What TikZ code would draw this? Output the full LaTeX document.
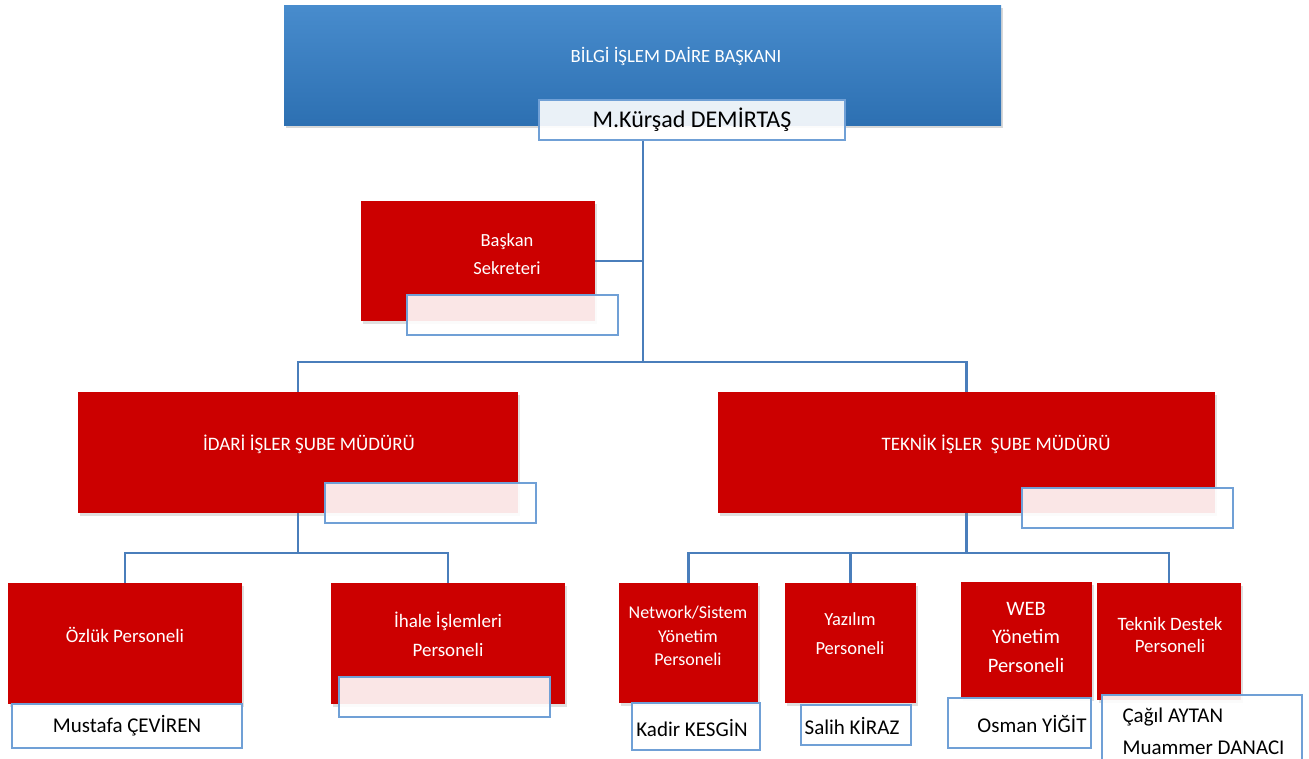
\documentclass[tikz,border=0pt]{standalone}
\usepackage{fontspec}
\setmainfont{Carlito}
\usetikzlibrary{shadows,backgrounds}
\definecolor{deepred}{RGB}{204,0,0}
\definecolor{linkblue}{RGB}{74,126,187}
\definecolor{edgeblue}{RGB}{112,160,214}
\definecolor{topblue}{RGB}{72,140,205}
\definecolor{lowblue}{RGB}{45,112,178}

\begin{document}
\begin{tikzpicture}[x=1pt,y=-1pt,
  redbox/.style={fill=deepred, inner sep=0, drop shadow={opacity=0.25,shadow xshift=2pt,shadow yshift=-3pt}},
  namebox/.style={draw=edgeblue, line width=1.5pt, fill=white, fill opacity=0.9, text opacity=1, inner sep=0},
  redtext/.style={text=white, align=center, font=\fontsize{19}{23}\selectfont},
  nametext/.style={font=\fontsize{21}{26}\selectfont},
  conn/.style={draw=linkblue, line width=2.5pt}]
\useasboundingbox (0,0) rectangle (1309,758);

\node[top color=topblue, bottom color=lowblue, inner sep=0, minimum width=717pt, minimum height=120pt, drop shadow={opacity=0.3,shadow xshift=2pt,shadow yshift=-3pt}] (HEAD) at (642.5,65) {};
\node[text=white, font=\fontsize{18.7}{22}\selectfont] (HEADT) at (676,56) {BİLGİ İŞLEM DAİRE BAŞKANI};
\node[namebox, minimum width=306pt, minimum height=40pt, font=\fontsize{24}{28}\selectfont] (KURSAD) at (692,120) {M.Kürşad DEMİRTAŞ};

\node[redbox, minimum width=234pt, minimum height=120pt] (SEC) at (478,261) {};
\node[redtext, font=\fontsize{18.5}{23}\selectfont] (SECT) at (507,254) {Başkan\\[5pt]Sekreteri};
\node[namebox, minimum width=211pt, minimum height=40pt] (SECN) at (512.5,315) {};

\node[redbox, minimum width=440pt, minimum height=121pt] (IDARI) at (298,452.5) {};
\node[redtext] (IDARIT) at (309,444) {İDARİ İŞLER ŞUBE MÜDÜRÜ};
\node[namebox, minimum width=211pt, minimum height=40pt] (IDARIN) at (430.5,503) {};

\node[redbox, minimum width=497pt, minimum height=121pt] (TEKNIK) at (966.5,452.5) {};
\node[redtext] (TEKNIKT) at (996,444) {TEKNİK İŞLER\ \ ŞUBE MÜDÜRÜ};
\node[namebox, minimum width=211pt, minimum height=40pt] (TEKNIKN) at (1127.5,508) {};

\node[redbox, minimum width=234pt, minimum height=121pt] (OZLUK) at (125,643.5) {};
\node[redtext] (OZLUKT) at (125,635) {Özlük Personeli};
\node[namebox, minimum width=230pt, minimum height=44pt, nametext] (OZLUKN) at (127,726) {Mustafa ÇEVİREN};

\node[redbox, minimum width=234pt, minimum height=121pt] (IHALE) at (448,643.5) {};
\node[redtext] (IHALET) at (448,634) {İhale İşlemleri\\[6pt]Personeli};
\node[namebox, minimum width=211pt, minimum height=40pt] (IHALEN) at (444.5,697) {};

\node[redbox, minimum width=139pt, minimum height=120pt] (NET) at (688.5,643) {};
\node[redtext, font=\fontsize{18}{23.5}\selectfont] (NETT) at (688,636) {Network/Sistem\\Yönetim\\Personeli};
\node[namebox, minimum width=128pt, minimum height=47pt] (NETN) at (696,726.5) {};
\node[nametext] (NETNT) at (692,728) {Kadir KESGİN};

\node[redbox, minimum width=131pt, minimum height=120pt] (YAZ) at (850.5,643) {};
\node[redtext, font=\fontsize{18.5}{23}\selectfont] (YAZT) at (850,634) {Yazılım\\[6pt]Personeli};
\node[namebox, minimum width=110pt, minimum height=40pt] (YAZN) at (856,725) {};
\node[nametext] (YAZNT) at (852,726) {Salih KİRAZ};

\node[redbox, minimum width=131pt, minimum height=116pt] (WEB) at (1026.5,640) {};
\node[redtext, font=\fontsize{20.5}{28.5}\selectfont] (WEBT) at (1026,637) {WEB\\Yönetim\\Personeli};
\node[namebox, minimum width=143pt, minimum height=50pt] (WEBN) at (1019.5,723) {};
\node[nametext] (WEBNT) at (1032,724) {Osman YİĞİT};

\node[redbox, minimum width=144pt, minimum height=117pt] (DESTEK) at (1169,641.5) {};
\node[redtext, font=\fontsize{18.9}{22}\selectfont] (DESTEKT) at (1170,635) {Teknik Destek\\Personeli};
\node[namebox, minimum width=200pt, minimum height=70pt] (DESTEKN) at (1202,730) {};
\node[nametext, anchor=base west] (AYTAN) at (1119,722) {Çağıl AYTAN};
\node[nametext, anchor=base west] (DANACI) at (1119,754) {Muammer DANACI};

\begin{pgfonlayer}{background}
\fill[white] (0,0) rectangle (1309,758);
\coordinate (HUB) at (643,362);
\draw[conn] (KURSAD.south -| HUB) -- (HUB);
\draw[conn] (SEC.east) -- (SEC.east -| HUB);
\draw[conn] (IDARI.north) -- ++(0,-30) -| (TEKNIK.north);
\draw[conn] (IDARI.south) -- ++(0,40);
\draw[conn] (OZLUK.north) -- ++(0,-30) -| (IHALE.north);
\draw[conn] (TEKNIK.south) -- ++(0,40);
\draw[conn] (NET.north) -- ++(0,-30) -| (DESTEK.north);
\draw[conn] (YAZ.north) -- ++(0,-30);
\end{pgfonlayer}
\end{tikzpicture}
\end{document}
